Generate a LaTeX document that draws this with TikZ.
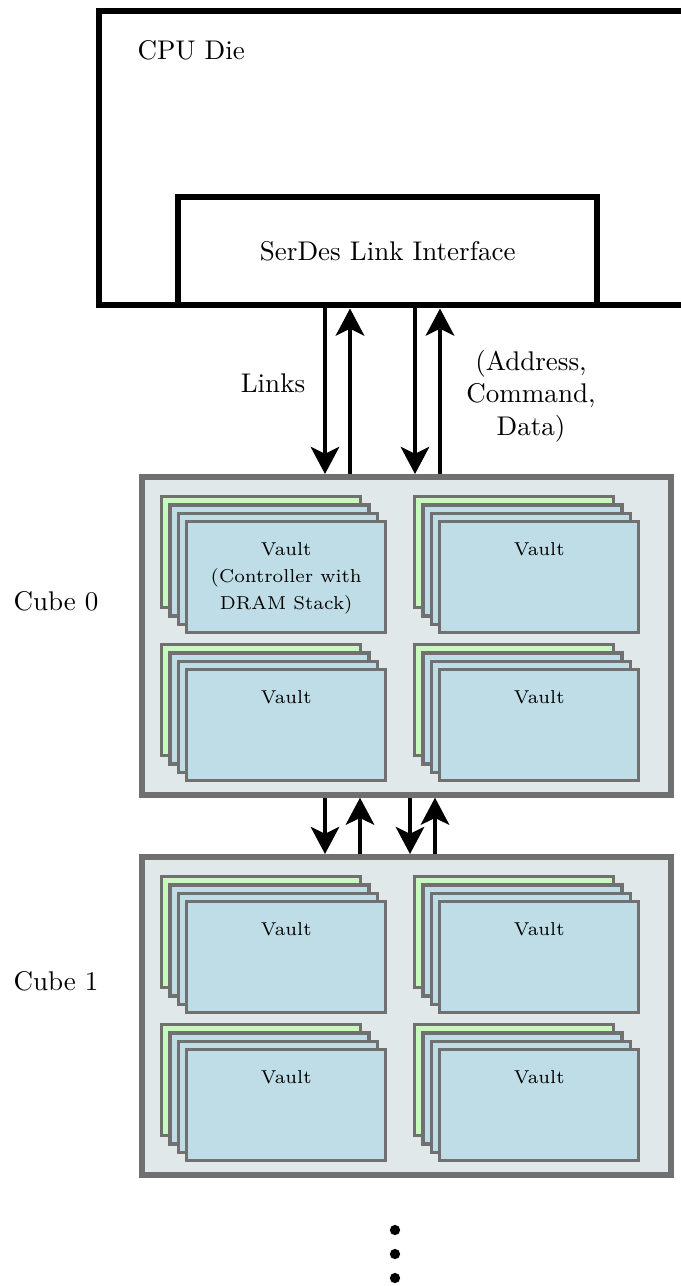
\documentclass[tikz,border=0pt]{standalone}
\usetikzlibrary{arrows.meta}
\definecolor{cubefill}{RGB}{225,232,233}
\definecolor{cubeedge}{RGB}{112,112,112}
\definecolor{vaultblue}{RGB}{191,221,230}
\definecolor{vaultgreen}{RGB}{200,250,190}

\tikzset{
  diebox/.style={draw, line width=2.4pt, anchor=north west, inner sep=0pt},
  cubebox/.style={draw=cubeedge, fill=cubefill, line width=2.1pt, anchor=north west, inner sep=0pt,
    minimum width=529*0.37pt, minimum height=318*0.37pt},
  vaultbox/.style={draw=cubeedge, fill=vaultblue, line width=1.25pt, anchor=north west, inner sep=0pt,
    minimum width=199*0.37pt, minimum height=111*0.37pt},
  vaulttext/.style={font=\fontsize{6.9}{10}\selectfont, align=center, anchor=north, inner sep=0pt},
  link/.style={line width=1.6pt, -{Stealth[length=10pt,width=10.5pt,inset=2.5pt]}},
}

% stack of vault layers: name, x, y of front layer, text
\newcommand{\vaultstack}[4]{%
  \foreach \k/\c in {0/vaultgreen,1/vaultblue,2/vaultblue} {
    \node[vaultbox, fill=\c] at (#2-25+8.33*\k, #3-25+8.33*\k) {};
  }
  \node[vaultbox] (#1) at (#2,#3) {};
  \node[vaulttext] (#1t) at ([yshift=-8pt]#1.north) {#4};
}

\begin{document}
\begin{tikzpicture}[x=0.37pt, y=-0.37pt]
  \useasboundingbox (0,0) rectangle (680,1286);

  % CPU side
  \node[diebox, minimum width=640*0.37pt, minimum height=294*0.37pt] (die) at (96,8) {};
  \node[anchor=west, inner sep=0pt] (dielabel) at (137,50) {CPU Die};
  \node[diebox, fill=white, minimum width=419*0.37pt, minimum height=108*0.37pt] (serdes) at (175,194) {SerDes Link Interface};

  % cubes
  \foreach \i/\y in {0/474, 1/854} {
    \node[cubebox] (cube\i) at (139,\y) {};
    \node (cubelabel\i) at (56,\y+127) {Cube \i};
  }
  \vaultstack{va}{185}{520}{Vault\\(Controller with\\DRAM Stack)}
  \vaultstack{vb}{438}{520}{Vault}
  \vaultstack{vc}{185}{668}{Vault}
  \vaultstack{vd}{438}{668}{Vault}
  \vaultstack{ve}{185}{900}{Vault}
  \vaultstack{vf}{438}{900}{Vault}
  \vaultstack{vg}{185}{1048}{Vault}
  \vaultstack{vh}{438}{1048}{Vault}

  % links
  \coordinate (d1) at (325,0);
  \coordinate (u1) at (350,0);
  \coordinate (d2) at (415,0);
  \coordinate (u2) at (440,0);
  \draw[link] (serdes.south -| d1) -- (cube0.north -| d1);
  \draw[link] (cube0.north -| u1) -- (serdes.south -| u1);
  \draw[link] (serdes.south -| d2) -- (cube0.north -| d2);
  \draw[link] (cube0.north -| u2) -- (serdes.south -| u2);
  \node (links) at (273,383) {Links};
  \node[align=center] (payload) at (531,396) {(Address,\\Command,\\Data)};

  \coordinate (d3) at (325,0);
  \coordinate (u3) at (360,0);
  \coordinate (d4) at (410,0);
  \coordinate (u4) at (435,0);
  \draw[link] (cube0.south -| d3) -- (cube1.north -| d3);
  \draw[link] (cube1.north -| u3) -- (cube0.south -| u3);
  \draw[link] (cube0.south -| d4) -- (cube1.north -| d4);
  \draw[link] (cube1.north -| u4) -- (cube0.south -| u4);

  \foreach \y in {1230, 1254, 1278} {
    \fill (395,\y) circle (1.9pt);
  }
\end{tikzpicture}
\end{document}
